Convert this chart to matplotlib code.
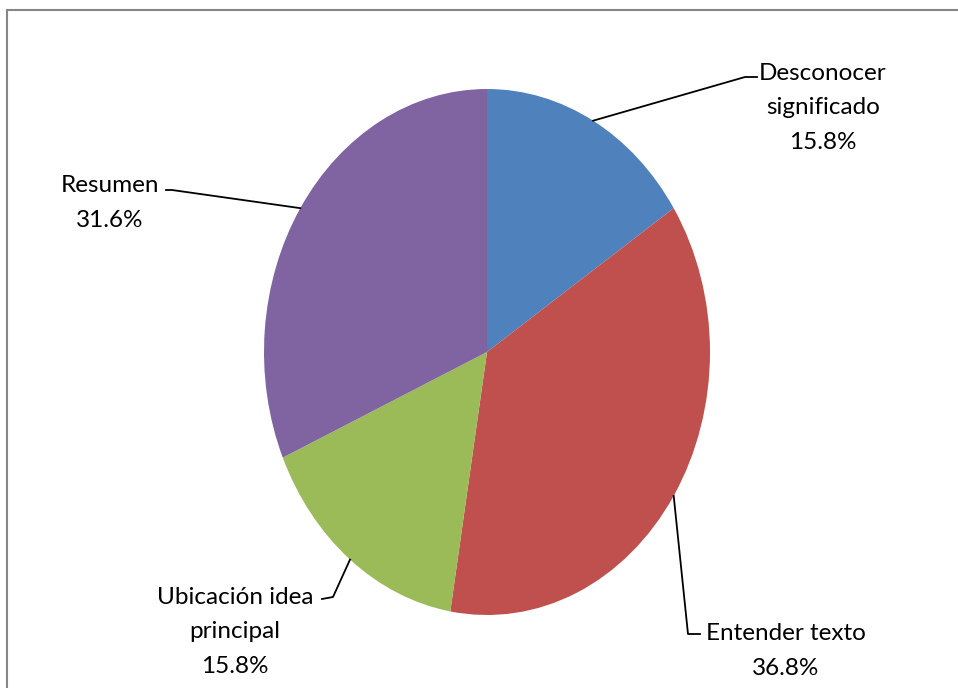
import matplotlib
matplotlib.use("Agg")
from matplotlib import pyplot as plt
from matplotlib.patches import Rectangle
import numpy as np

# data
labels = ['Desconocer\nsignificado', 'Entender texto', 'Ubicación idea\nprincipal', 'Resumen']
counts = [3, 7, 3, 6]
colors = ['#4F81BD', '#C0504D', '#9BBB59', '#8064A2']

# label layout (pixel positions of text centre, leader elbow, leader end)
text_pos = [(823, 108), (786, 651), (235, 632), (110, 203)]
elbow_pos = [(745, 77), (688, 634), (333, 597), (172, 190)]
end_pos = [(757, 77), (700, 634), (322, 599), (166, 190)]

plt.rcParams['font.family'] = ['Lato', 'DejaVu Sans']

W, H = 958, 688
fig = plt.figure(figsize=(W / 100, H / 100), dpi=100)

cx, cy, rx, ry = 487, 352, 223, 263
ax = fig.add_axes([(cx - rx) / W, (H - cy - ry) / H, 2 * rx / W, 2 * ry / H])
wedges, _ = ax.pie(counts, colors=colors, startangle=90, counterclock=False,
                   radius=1, wedgeprops=dict(linewidth=0))
ax.set_aspect('auto')
ax.set_xlim(-1, 1)
ax.set_ylim(-1, 1)

def px2d(p):
    return ((p[0] - cx) / rx, (cy - p[1]) / ry)

total = sum(counts)
for i, w in enumerate(wedges):
    ang = np.deg2rad((w.theta1 + w.theta2) / 2)
    sx, sy = np.cos(ang), np.sin(ang)
    ex, ey = px2d(elbow_pos[i])
    fx, fy = px2d(end_pos[i])
    ax.plot([sx, ex, fx], [sy, ey, fy], color='black', lw=1.3, clip_on=False)
    tx, ty = px2d(text_pos[i])
    pct = counts[i] / total * 100
    ax.text(tx, ty, f"{labels[i]}\n{pct:.1f}%", ha='center', va='center',
            fontsize=17.5, linespacing=1.8, clip_on=False)

# chart border
fig.add_artist(Rectangle((7 / W, -0.05), 1.1, (H - 10) / H + 0.05,
                         transform=fig.transFigure, fill=False,
                         edgecolor='#868686', linewidth=1.5))

fig.savefig("out.png", dpi=100, facecolor='white')
plt.close()
